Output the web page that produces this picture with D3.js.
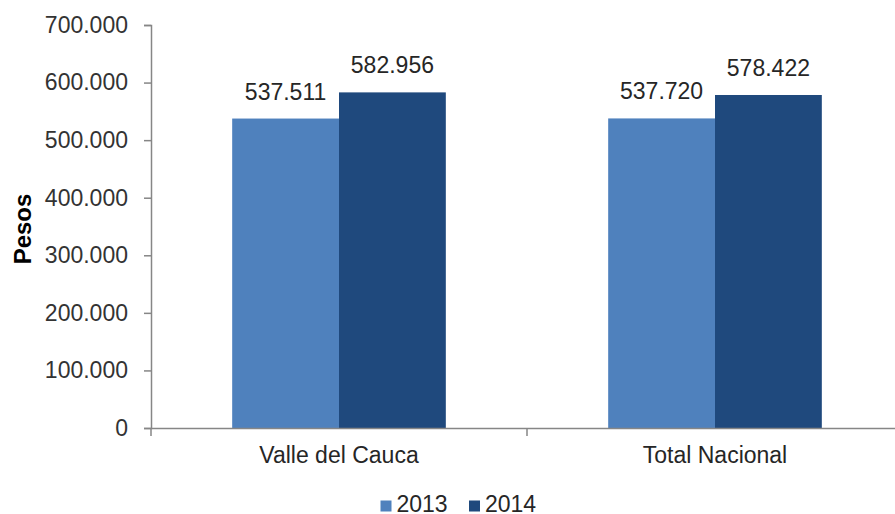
<!DOCTYPE html>
<html>
<head>
<meta charset="utf-8">
<script src="https://cdn.jsdelivr.net/npm/d3@7"></script>
<style>
  body { margin: 0; background: #fff; }
  svg { display: block; font-family: "Liberation Sans", Arial, sans-serif; }
</style>
</head>
<body>
<svg width="895" height="514"></svg>
<script>
const categories = ["Valle del Cauca", "Total Nacional"];
const series = ["2013", "2014"];
const values2013 = [537511, 537720];
const values2014 = [582956, 578422];
const yTicks = [0, 100000, 200000, 300000, 400000, 500000, 600000, 700000];

const colors = { "2013": "#4F81BD", "2014": "#1F497D" };
const svg = d3.select("svg");
const fs = 23;

const x0 = d3.scaleBand().domain(categories).range([151, 903]).padding(0);
const x1 = d3.scaleBand().domain(series).range([0, x0.bandwidth()]).paddingInner(0).paddingOuter(0.76);
const y = d3.scaleLinear().domain([0, 700000]).range([428, 25]);

const fmt = v => d3.format(",")(v).replace(/,/g, ".");

const data = categories.map((c, i) => ({
  cat: c,
  vals: [{ s: "2013", v: values2013[i] }, { s: "2014", v: values2014[i] }]
}));

// y axis
const yAxis = svg.append("g")
    .attr("transform", "translate(151,0)")
    .call(d3.axisLeft(y).tickValues(yTicks).tickSize(7).tickPadding(16)
      .tickFormat(d => d === 0 ? "0" : fmt(d)));
yAxis.select(".domain").attr("stroke", "#868686").attr("stroke-width", 1.5);
yAxis.selectAll(".tick line").attr("stroke", "#868686").attr("stroke-width", 1.5);
yAxis.selectAll(".tick text").attr("font-size", fs).attr("fill", "#333")
    .attr("font-family", "Liberation Sans, Arial, sans-serif");

// bars
const groups = svg.append("g").selectAll("g")
  .data(data).enter().append("g")
    .attr("transform", d => "translate(" + x0(d.cat) + ",0)");

groups.selectAll("rect")
  .data(d => d.vals).enter().append("rect")
    .attr("x", d => x1(d.s))
    .attr("y", d => y(d.v))
    .attr("width", x1.bandwidth())
    .attr("height", d => y(0) - y(d.v))
    .attr("fill", d => colors[d.s]);

groups.selectAll("text")
  .data(d => d.vals).enter().append("text")
    .attr("x", d => x1(d.s) + x1.bandwidth() / 2)
    .attr("y", d => y(d.v) - 19)
    .attr("text-anchor", "middle")
    .attr("font-size", fs)
    .attr("fill", "#262626")
    .text(d => fmt(d.v));

// x axis
const xAxis = svg.append("g")
    .attr("transform", "translate(0,428)")
    .call(d3.axisBottom(x0).tickSize(0).tickPadding(19));
xAxis.select(".domain").attr("stroke", "#868686").attr("stroke-width", 1.5);
xAxis.selectAll(".tick text").attr("font-size", fs).attr("fill", "#262626")
    .attr("font-family", "Liberation Sans, Arial, sans-serif");
xAxis.selectAll(".sep")
  .data([x0.range()[0], x0(categories[1])]).enter().append("line")
    .attr("class", "sep")
    .attr("x1", d => d).attr("x2", d => d)
    .attr("y1", 0).attr("y2", 8)
    .attr("stroke", "#868686").attr("stroke-width", 1.5);

// y title
svg.append("text")
    .attr("transform", "translate(31,229) rotate(-90)")
    .attr("text-anchor", "middle")
    .attr("font-size", 24)
    .attr("font-weight", "bold")
    .attr("fill", "#000")
    .text("Pesos");

// legend
const legend = svg.append("g").selectAll("g")
  .data(series).enter().append("g")
    .attr("transform", (d, i) => "translate(" + (380.5 + i * 88.5) + ",500.5)");
legend.append("rect")
    .attr("width", 11).attr("height", 11)
    .attr("fill", d => colors[d]);
legend.append("text")
    .attr("x", 16).attr("y", 11.5)
    .attr("font-size", fs)
    .attr("fill", "#262626")
    .text(d => d);
</script>
</body>
</html>
